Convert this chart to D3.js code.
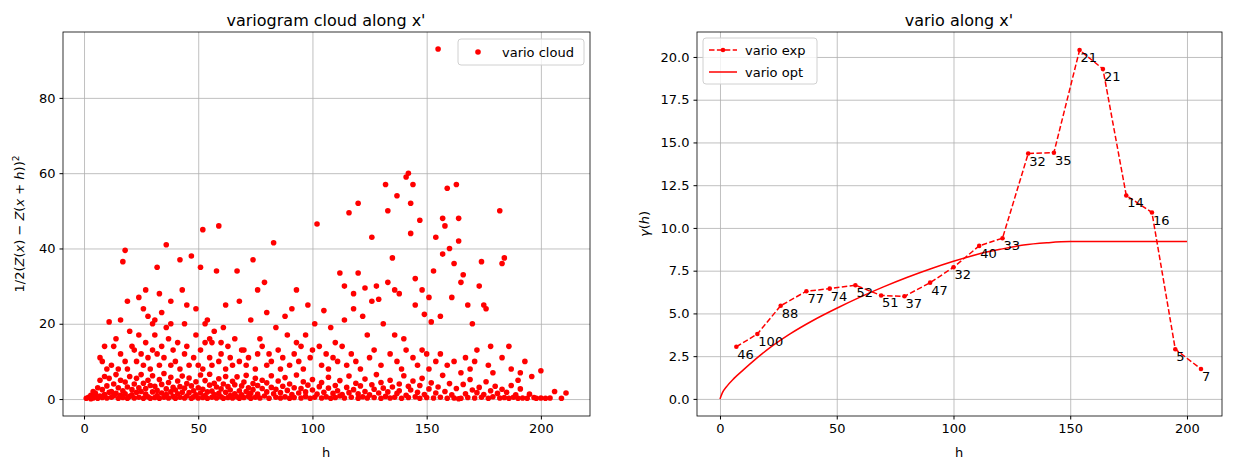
<!DOCTYPE html>
<html><head><meta charset="utf-8">
<script src="https://cdn.jsdelivr.net/npm/d3@7"></script>
<style>
body{margin:0;background:#fff;font-family:"DejaVu Sans",sans-serif;}
text{font-family:"DejaVu Sans",sans-serif;}
</style></head><body>
<svg id="fig" width="1235" height="470"></svg>
<script>
// nuage variographique : [h, 1/2(Z(x)-Z(x+h))^2]
const cloudHigh = [[16,21],[17,36.5],[18,39.5],[19,26],[24,27],[26,24],[27,29],[28,22],[30,20],[31,21],[32,35],[33,28],[34,23],[36,19],[36,41],[38,20],[38,26],[42,37],[43,29],[44,20],[45,25],[47,38],[49,24],[51,35],[52,45],[53,20],[54,21],[55,16],[56,15],[58,34],[59,46],[60,15],[61,19],[62,25],[67,34],[68,26],[70,13],[73,21],[74,37],[76,29],[77,16],[79,31],[80,23],[83,41.5],[84,19],[88,22],[89,17],[91,24],[93,29],[93,15],[97,17],[98,25],[101,20],[102,46.5],[103,14],[105,23.5],[108,19],[110,15],[112,33.5],[114,30],[114,21],[116,49.5],[118,28],[118,24],[120,52],[120,33.5],[122,22],[123,29.5],[124,17],[126,43],[126,26],[128,30],[129,26.5],[131,20],[132,57],[133,50],[133,31],[135,37.5],[136,29],[136,17],[137,54],[138,28],[140,16],[141,59],[142,60],[143,52],[143,44],[144,57],[145,25],[145,32],[147,47.5],[148,29],[149,22.5],[150,12],[151,27],[152,20.5],[153,34],[154,43],[155,93],[156,22],[157,38.5],[157,48],[158,46],[159,56],[160,40],[161,27],[162,36],[163,57],[164,48],[164,42],[165,31],[166,33],[168,25],[170,20],[172,13],[173,30],[174,36.5],[175,25],[176,24],[178,14],[182,50],[183,36],[184,37.5],[186,14],[191,7],[193,10],[200,7.5]];
const cloudMid = [[7,11],[8,10],[9,14],[10,8],[11,20.5],[12,9],[13,14],[14,16],[15,8],[16,12],[18,10],[19,8],[20,18],[21,14],[22,13],[23,10],[24,17],[25,12],[26,9],[27,15],[28,11],[29,8],[30,13],[31,17],[32,12],[33,9],[34,14],[35,11],[37,16],[38,9],[39,13],[40,10],[41,15],[42,8],[44,12],[45,14],[46,9],[48,11],[49,17],[50,9],[51,13],[52,8],[53,15],[55,11],[56,9],[57,18],[59,10],[60,12],[62,8],[63,14],[64,11],[65,9],[66,16],[68,10],[69,13],[71,9],[72,11],[75,8],[76,12],[78,14],[80,9],[81,12],[82,10],[85,13],[86,8],[87,11],[90,9],[92,12],[94,10],[95,14],[96,8],[99,11],[100,13],[104,9],[106,12],[107,8],[109,11],[111,10],[113,14],[115,9],[117,12],[119,10],[121,8],[125,11],[127,13],[130,9],[134,12],[137,10],[139,8],[141,13],[144,11],[146,9],[148,13],[151,8],[154,10],[156,12],[159,9],[162,10],[165,7],[167,11],[169,8],[171,10],[177,9],[179,7],[183,11],[187,8],[190,5],[196,6]];
const cloudLow = [[1,0.2],[2,0.5],[3,0.1],[3,1],[4,0.3],[4,2],[5,0.6],[5,1.5],[6,0.2],[6,3],[7,0.8],[7,5],[8,0.4],[8,2.5],[9,1.2],[9,6],[10,0.3],[10,3.5],[11,1.8],[11,5.5],[12,0.5],[12,2],[13,4],[13,0.9],[14,1.5],[14,6.5],[15,0.2],[15,3],[16,5],[16,1],[17,2.2],[17,0.4],[18,4.5],[18,1.4],[19,0.2],[19,3.2],[20,6],[20,0.7],[21,2.5],[21,1.1],[22,4],[22,0.3],[23,5.5],[23,1.8],[24,0.5],[24,3],[25,2],[25,6.5],[26,0.2],[26,4.2],[27,1.3],[27,2.8],[28,0.6],[28,5],[29,3.6],[29,0.2],[30,1.9],[30,6.2],[31,0.4],[31,3.4],[32,2.3],[32,0.9],[33,5.2],[33,0.2],[34,1.6],[34,3.9],[35,0.5],[35,6.8],[36,2.7],[36,1.2],[37,4.4],[37,0.3],[38,1.9],[38,5.8],[39,0.7],[39,3.1],[40,2.4],[40,0.2],[41,4.8],[41,1.4],[42,0.5],[42,3.3],[43,6.1],[43,1.8],[44,0.3],[44,2.9],[45,4.1],[45,0.8],[46,1.7],[46,5.6],[47,0.2],[47,3.5],[48,2.2],[48,0.6],[49,4.6],[49,1.1],[50,0.3],[50,3],[51,6.4],[51,1.6],[52,0.4],[52,2.6],[53,4.9],[53,0.9],[54,1.9],[54,0.2],[55,3.7],[55,6.6],[56,0.5],[56,2.1],[57,4.2],[57,1.2],[58,0.3],[58,3.2],[59,5.4],[59,1.5],[60,0.6],[60,2.7],[61,4],[61,0.2],[62,1.8],[62,6],[63,0.4],[63,3.3],[64,2.4],[64,0.9],[65,4.7],[65,0.3],[66,1.4],[66,3.8],[67,0.6],[67,5.9],[68,2.2],[68,0.2],[69,3.5],[69,1.1],[70,0.4],[70,4.5],[71,2],[71,6.3],[72,0.7],[72,3],[73,1.5],[73,0.2],[74,4.1],[74,2.5],[75,0.5],[75,5.5],[76,1.3],[76,3.6],[77,0.3],[78,2.8],[78,5],[79,0.8],[80,1.9],[80,4.3],[81,0.2],[82,3.1],[82,6.2],[83,1.4],[84,0.5],[84,2.6],[85,4.8],[86,0.3],[86,1.7],[87,3.4],[88,0.6],[88,5.7],[89,2.3],[90,0.2],[90,4],[91,1.2],[92,0.4],[92,3],[93,6.4],[94,1.6],[95,0.3],[95,2.8],[96,4.6],[97,0.7],[97,1.9],[98,3.7],[99,0.2],[100,2.4],[100,5.2],[101,0.5],[102,1.3],[103,3.3],[104,0.3],[104,4.4],[105,1.8],[106,0.6],[107,2.9],[107,5.8],[108,0.2],[109,1.5],[110,3.6],[110,0.4],[111,2.2],[112,4.9],[112,0.8],[113,1.2],[114,0.3],[115,3.1],[116,6.1],[116,1.7],[117,0.5],[118,2.5],[119,4.2],[120,0.2],[120,1.4],[121,3.5],[122,0.6],[123,5.3],[123,2],[124,0.3],[125,1.1],[126,3.8],[127,0.4],[127,2.6],[128,6.5],[129,1.6],[130,0.2],[130,4.4],[131,2.9],[132,0.7],[133,1.9],[134,0.3],[134,5],[135,3.2],[136,0.5],[137,1.5],[138,4],[138,2.2],[139,0.2],[140,6.2],[141,1],[142,3.4],[142,0.4],[143,2.4],[144,4.8],[145,0.6],[146,1.8],[147,0.2],[147,3.6],[148,5.5],[149,1.2],[150,0.4],[151,2.7],[152,4.3],[153,0.3],[154,1.6],[155,3.2],[156,0.5],[157,6.3],[158,2],[159,0.2],[160,4.1],[161,1.1],[162,0.3],[163,2.8],[164,0.1],[165,0.2],[166,3.9],[167,1.4],[168,0.4],[169,5.2],[170,2.4],[171,0.3],[172,1.7],[173,3.1],[174,0.5],[175,1.2],[176,4.6],[177,0.2],[178,2.2],[179,0.6],[180,3.4],[181,1.5],[182,0.3],[183,2.6],[184,0.4],[185,1.8],[186,0.2],[187,3.6],[188,0.5],[189,1.1],[190,0.2],[191,2.7],[192,0.3],[194,0.2],[195,1.3],[197,0.4],[198,0.2],[200,0.3],[202,0.2],[204,0.3],[206,2],[209,0.2],[211,1.6]];
const cloud = cloudLow.concat(cloudMid, cloudHigh);

// variogramme expérimental
const expH = [7, 16, 26, 37, 47, 58, 69, 79, 90, 100, 111, 121, 132, 143, 154, 164, 174, 185, 195, 206];
const expG = [3.05, 3.8, 5.45, 6.3, 6.45, 6.65, 6.05, 6.0, 6.8, 7.7, 8.95, 9.4, 14.35, 14.4, 20.4, 19.3, 11.9, 10.9, 2.9, 1.75];
const expN = [46, 100, 88, 77, 74, 52, 51, 37, 47, 32, 40, 33, 32, 35, 21, 21, 14, 16, 5, 7];

// modèle ajusté
const optH = [0, 1, 3, 6, 10, 15, 20, 30, 40, 50, 60, 70, 80, 90, 100, 110, 120, 130, 140, 150, 160, 180, 200];
const optG = [0, 0.35, 0.75, 1.2, 1.7, 2.3, 2.85, 3.8, 4.6, 5.3, 5.95, 6.55, 7.1, 7.6, 8.05, 8.45, 8.75, 9.0, 9.13, 9.2, 9.2, 9.2, 9.2];

const xTicksL = [0, 50, 100, 150, 200];
const yTicksL = [0, 20, 40, 60, 80];
const xTicksR = [0, 50, 100, 150, 200];
const yTicksR = [0, 2.5, 5, 7.5, 10, 12.5, 15, 17.5, 20];

const svg = d3.select("#fig");
const plotTop = 32, plotBottom = 416;

function frame(g, x, y, xt, yt, fmt) {
    g.append("g").attr("transform", `translate(0,${plotBottom})`)
        .call(d3.axisBottom(x).tickValues(xt).tickSize(-(plotBottom - plotTop)).tickFormat(""))
        .call(a => a.selectAll("line").attr("stroke", "#b0b0b0").attr("stroke-width", 0.8))
        .call(a => a.select(".domain").remove());
    g.append("g").attr("transform", `translate(${x.range()[0]},0)`)
        .call(d3.axisLeft(y).tickValues(yt).tickSize(-(x.range()[1] - x.range()[0])).tickFormat(""))
        .call(a => a.selectAll("line").attr("stroke", "#b0b0b0").attr("stroke-width", 0.8))
        .call(a => a.select(".domain").remove());
    const ax = g.append("g").attr("transform", `translate(0,${plotBottom})`)
        .call(d3.axisBottom(x).tickValues(xt).tickSize(3.5).tickPadding(4).tickFormat(d3.format("d")));
    const ay = g.append("g").attr("transform", `translate(${x.range()[0]},0)`)
        .call(d3.axisLeft(y).tickValues(yt).tickSize(3.5).tickPadding(4).tickFormat(fmt));
    [ax, ay].forEach(a => {
        a.select(".domain").remove();
        a.selectAll("text").attr("font-size", 13).attr("fill", "#000");
        a.selectAll("line").attr("stroke", "#000");
    });
    g.append("rect").attr("x", x.range()[0]).attr("y", plotTop)
        .attr("width", x.range()[1] - x.range()[0]).attr("height", plotBottom - plotTop)
        .attr("fill", "none").attr("stroke", "#000").attr("stroke-width", 0.8);
}

// ---- gauche
const xL = d3.scaleLinear().domain([-9.2, 221.5]).range([63, 590]);
const yL = d3.scaleLinear().domain([-4.5, 97.5]).range([plotBottom, plotTop]);
const gL = svg.append("g");
frame(gL, xL, yL, xTicksL, yTicksL, d3.format("d"));
gL.append("g").selectAll("circle").data(cloud).join("circle")
    .attr("cx", d => xL(d[0])).attr("cy", d => yL(d[1])).attr("r", 2.8).attr("fill", "red");
gL.append("text").attr("x", 326).attr("y", 26).attr("text-anchor", "middle").attr("font-size", 16).text("variogram cloud along x'");
gL.append("text").attr("x", 326).attr("y", 457).attr("text-anchor", "middle").attr("font-size", 13).text("h");
gL.append("text").attr("transform", "translate(24,224) rotate(-90)").attr("text-anchor", "middle").attr("font-size", 13)
    .html('1/2(<tspan font-style="italic">Z</tspan>(<tspan font-style="italic">x</tspan>) − <tspan font-style="italic">Z</tspan>(<tspan font-style="italic">x</tspan> + <tspan font-style="italic">h</tspan>))<tspan dy="-5" font-size="9">2</tspan>');
// légende gauche
const lgL = gL.append("g").attr("transform", "translate(458,39)");
lgL.append("rect").attr("width", 126).attr("height", 26).attr("rx", 3).attr("fill", "#fff").attr("fill-opacity", 0.8).attr("stroke", "#d0d0d0");
lgL.append("circle").attr("cx", 20).attr("cy", 13).attr("r", 2.8).attr("fill", "red");
lgL.append("text").attr("x", 44).attr("y", 18).attr("font-size", 13).text("vario cloud");

// ---- droite
const xR = d3.scaleLinear().domain([-9.85, 215]).range([697, 1222]);
const yR = d3.scaleLinear().domain([-1.0, 21.46]).range([plotBottom, plotTop]);
const gR = svg.append("g");
frame(gR, xR, yR, xTicksR, yTicksR, d3.format(".1f"));
const opt = optH.map((h, i) => [h, optG[i]]);
gR.append("path").datum(opt).attr("fill", "none").attr("stroke", "red").attr("stroke-width", 1.5)
    .attr("d", d3.line().x(d => xR(d[0])).y(d => yR(d[1])).curve(d3.curveMonotoneX));
const exp = expH.map((h, i) => [h, expG[i], expN[i]]);
gR.append("path").datum(exp).attr("fill", "none").attr("stroke", "red").attr("stroke-width", 1.5).attr("stroke-dasharray", "5.5,2.4")
    .attr("d", d3.line().x(d => xR(d[0])).y(d => yR(d[1])));
gR.append("g").selectAll("circle").data(exp).join("circle")
    .attr("cx", d => xR(d[0])).attr("cy", d => yR(d[1])).attr("r", 2.3).attr("fill", "red");
gR.append("g").selectAll("text").data(exp).join("text")
    .attr("x", d => xR(d[0]) + 1).attr("y", d => yR(d[1]) + 12).attr("font-size", 13).text(d => d[2]);
gR.append("text").attr("x", 959).attr("y", 26).attr("text-anchor", "middle").attr("font-size", 16).text("vario along x'");
gR.append("text").attr("x", 959).attr("y", 457).attr("text-anchor", "middle").attr("font-size", 13).text("h");
gR.append("text").attr("transform", "translate(649,224) rotate(-90)").attr("text-anchor", "middle").attr("font-size", 13)
    .html('<tspan font-style="italic">γ</tspan>(<tspan font-style="italic">h</tspan>)');
const lgR = gR.append("g").attr("transform", "translate(703,38)");
lgR.append("rect").attr("width", 114).attr("height", 46).attr("rx", 3).attr("fill", "#fff").attr("fill-opacity", 0.8).attr("stroke", "#d0d0d0");
lgR.append("line").attr("x1", 6).attr("x2", 34).attr("y1", 12).attr("y2", 12).attr("stroke", "red").attr("stroke-width", 1.5).attr("stroke-dasharray", "5.5,2.4");
lgR.append("circle").attr("cx", 20).attr("cy", 12).attr("r", 2.3).attr("fill", "red");
lgR.append("text").attr("x", 42).attr("y", 17).attr("font-size", 13).text("vario exp");
lgR.append("line").attr("x1", 6).attr("x2", 34).attr("y1", 34).attr("y2", 34).attr("stroke", "red").attr("stroke-width", 1.5);
lgR.append("text").attr("x", 42).attr("y", 39).attr("font-size", 13).text("vario opt");
</script>
</body></html>
